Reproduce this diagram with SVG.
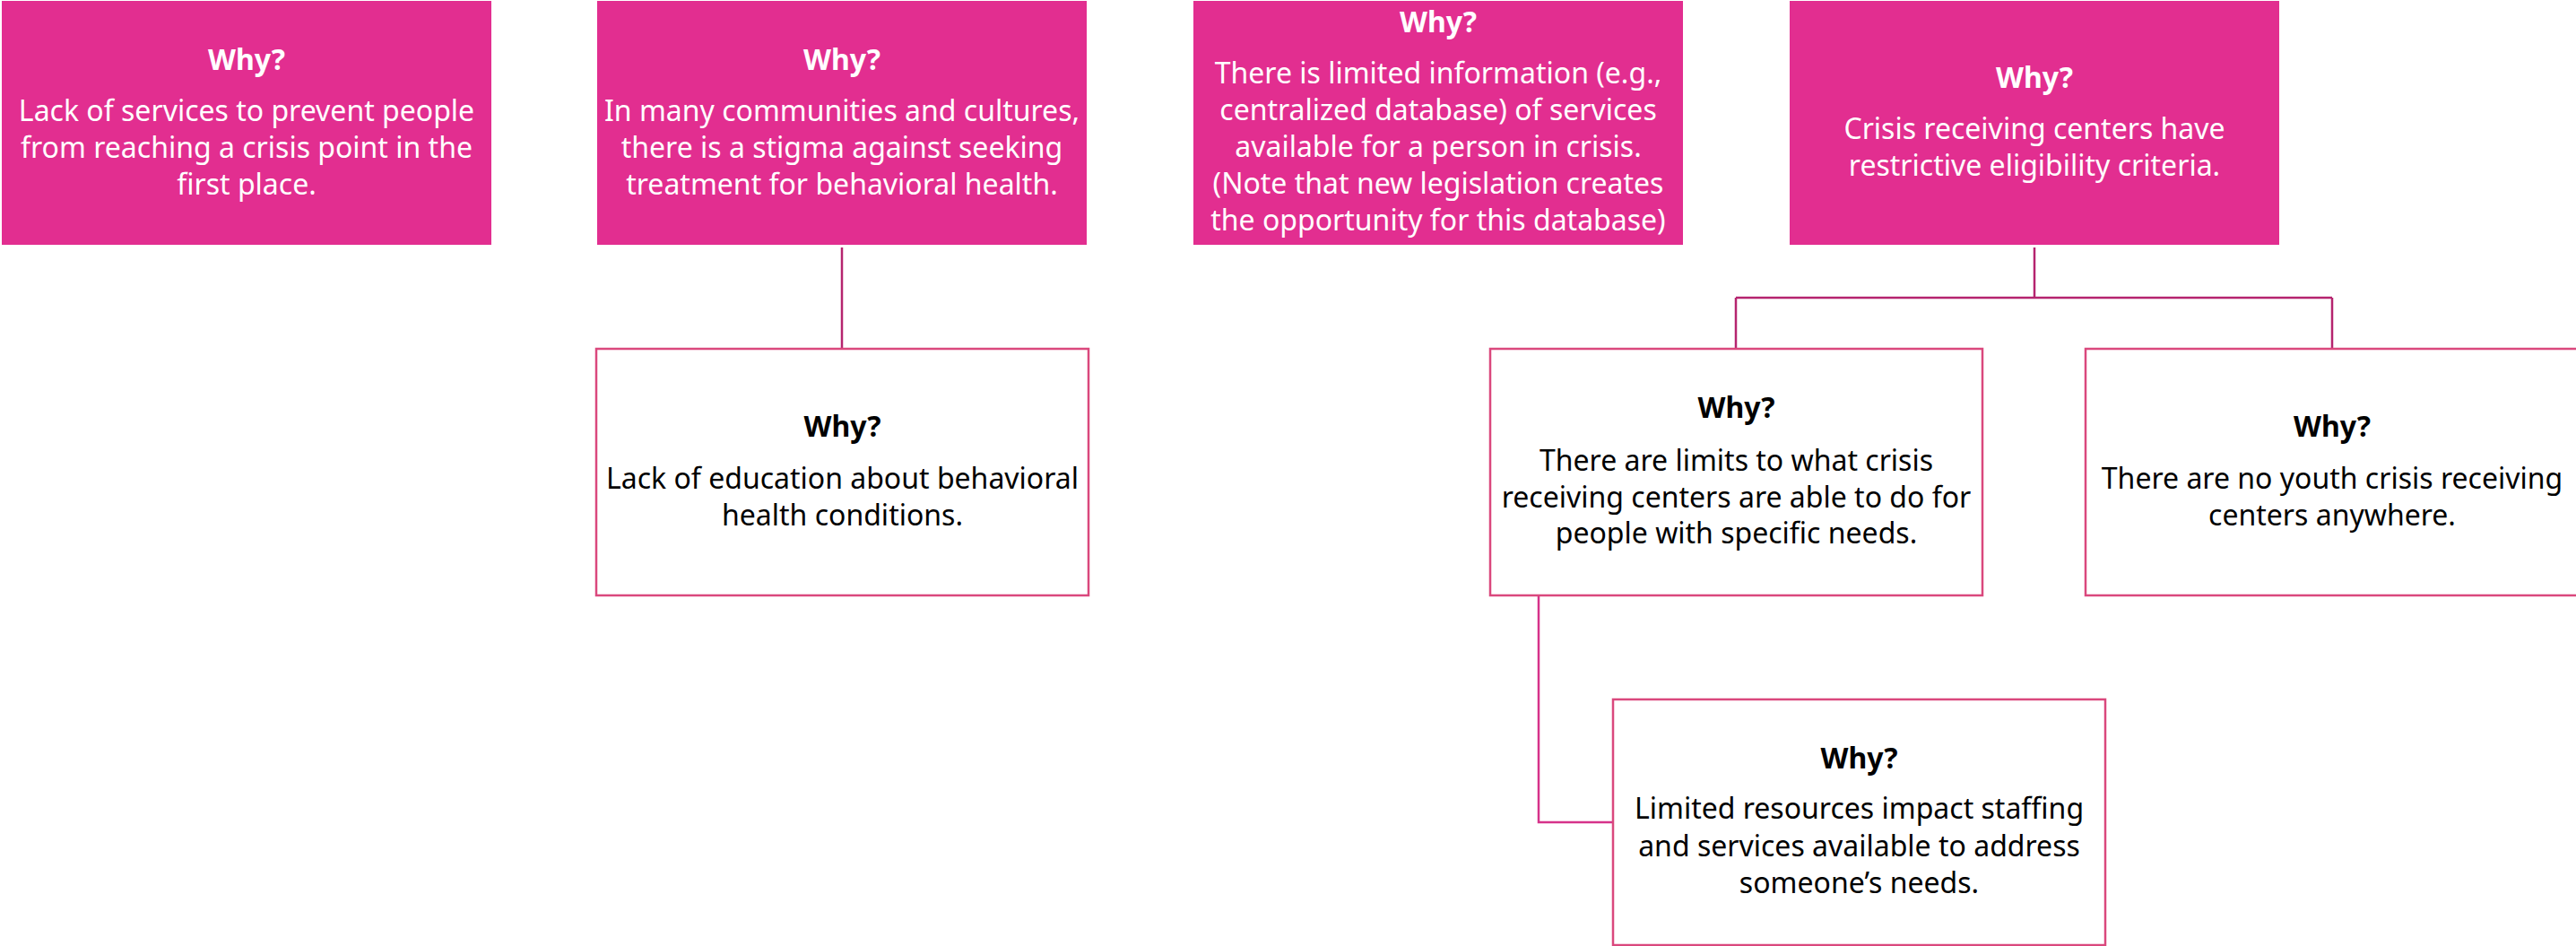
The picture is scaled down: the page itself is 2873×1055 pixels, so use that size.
<svg xmlns="http://www.w3.org/2000/svg" width="2873" height="1055" viewBox="0 0 2873 1055">
<style>
.fill{fill:#E22E90;stroke:none}
.out{fill:#FFFFFF;stroke:#DA487D;stroke-width:2.5}
text{font-family:"Noto Sans","Open Sans","Liberation Sans",sans-serif;font-size:32px;text-anchor:middle}
.h{font-weight:bold}
.w{fill:#FFFFFF}
.k{fill:#000000}
.c1{stroke:#B5246F;stroke-width:2.5;fill:none}
.c2{stroke:#D6338A;stroke-width:2.5;fill:none}
</style>
<rect width="2873" height="1055" fill="#FFFFFF"/>
<g id="connectors">
<path class="c1" d="M939 276 V389"/>
<path class="c1" d="M2269 276 V332 M1936 332 H2601 M1936 332 V389 M2601 332 V389"/>
<path class="c2" d="M1716 665 V917 H1799"/>
</g>
<g id="n1">
<rect class="fill" x="2" y="1" width="546" height="272"/>
<text class="w h" x="275" y="78">Why?</text>
<text class="w" x="275" y="135">Lack of services to prevent people</text>
<text class="w" x="275" y="176">from reaching a crisis point in the</text>
<text class="w" x="275" y="217">first place.</text>
</g>
<g id="n2">
<rect class="fill" x="666" y="1" width="546" height="272"/>
<text class="w h" x="939" y="78">Why?</text>
<text class="w" x="939" y="135">In many communities and cultures,</text>
<text class="w" x="939" y="176">there is a stigma against seeking</text>
<text class="w" x="939" y="217">treatment for behavioral health.</text>
</g>
<g id="n3">
<rect class="fill" x="1331" y="1" width="546" height="272"/>
<text class="w h" x="1604" y="36">Why?</text>
<text class="w" x="1604" y="93">There is limited information (e.g.,</text>
<text class="w" x="1604" y="134">centralized database) of services</text>
<text class="w" x="1604" y="175">available for a person in crisis.</text>
<text class="w" x="1604" y="216">(Note that new legislation creates</text>
<text class="w" x="1604" y="257">the opportunity for this database)</text>
</g>
<g id="n4">
<rect class="fill" x="1996" y="1" width="546" height="272"/>
<text class="w h" x="2269" y="98">Why?</text>
<text class="w" x="2269" y="155">Crisis receiving centers have</text>
<text class="w" x="2269" y="196">restrictive eligibility criteria.</text>
</g>
<g id="n5">
<rect class="out" x="665" y="389" width="549" height="275"/>
<text class="k h" x="939.5" y="487">Why?</text>
<text class="k" x="939.5" y="545">Lack of education about behavioral</text>
<text class="k" x="939.5" y="586">health conditions.</text>
</g>
<g id="n6">
<rect class="out" x="1662" y="389" width="549" height="275"/>
<text class="k h" x="1936.5" y="466">Why?</text>
<text class="k" x="1936.5" y="525">There are limits to what crisis</text>
<text class="k" x="1936.5" y="566">receiving centers are able to do for</text>
<text class="k" x="1936.5" y="606">people with specific needs.</text>
</g>
<g id="n7">
<rect class="out" x="2326" y="389" width="550" height="275"/>
<text class="k h" x="2601" y="487">Why?</text>
<text class="k" x="2601" y="545">There are no youth crisis receiving</text>
<text class="k" x="2601" y="586">centers anywhere.</text>
</g>
<g id="n8">
<rect class="out" x="1799" y="780" width="549" height="274"/>
<text class="k h" x="2073.5" y="857">Why?</text>
<text class="k" x="2073.5" y="913">Limited resources impact staffing</text>
<text class="k" x="2073.5" y="955">and services available to address</text>
<text class="k" x="2073.5" y="996">someone’s needs.</text>
</g>
</svg>
